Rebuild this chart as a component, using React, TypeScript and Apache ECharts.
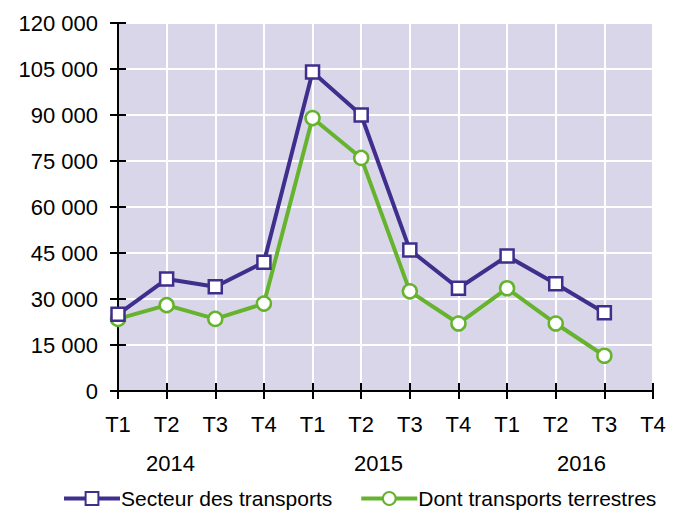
import React, { useEffect, useRef } from "react";
import * as echarts from "echarts";

const categories = ["T1", "T2", "T3", "T4", "T1", "T2", "T3", "T4", "T1", "T2", "T3", "T4"];
const years = ["2014", "2015", "2016"];
const secteurTransports = [25000, 36500, 34000, 42000, 104000, 90000, 46000, 33500, 44000, 35000, 25500];
const transportsTerrestres = [23500, 28000, 23500, 28500, 89000, 76000, 32500, 22000, 33500, 22000, 11500];
const seriesNames = ["Secteur des transports", "Dont transports terrestres"];

const FONT = "Liberation Sans, Arial, sans-serif";

export default function App() {
  const ref = useRef<HTMLDivElement>(null);
  useEffect(() => {
    if (!ref.current) return;
    const chart = echarts.init(ref.current, undefined, { renderer: "svg" });
    const fmt = (v: number) => String(v).replace(/\B(?=(\d{3})+(?!\d))/g, " ");
    const axisLine = { show: true, lineStyle: { color: "#000", width: 2 } };
    chart.setOption({
      animation: false,
      textStyle: { fontFamily: FONT },
      grid: {
        left: 118, right: 31, top: 23, bottom: 122,
        show: true, backgroundColor: "#d9d6ea", borderWidth: 0,
      },
      legend: {
        orient: "horizontal",
        top: 488,
        left: 62,
        width: 640,
        itemWidth: 56,
        itemHeight: 16,
        itemGap: 27,
        padding: 0,
        lineStyle: { width: 4 },
        textStyle: { fontSize: 21, color: "#000", fontFamily: FONT, padding: [0, 0, 0, -4] },
        data: seriesNames,
      },
      xAxis: [
        {
          type: "category", data: categories, boundaryGap: false,
          axisLine,
          axisTick: { show: true, length: 8, lineStyle: { color: "#000", width: 2 } },
          axisLabel: { color: "#000", fontSize: 22, margin: 22, fontFamily: FONT, interval: 0 },
          splitLine: { show: true, lineStyle: { color: "#fff", width: 2 } },
        },
        {
          type: "category", data: categories, boundaryGap: false, position: "bottom",
          axisLine,
          axisTick: { show: true, inside: true, length: 8, lineStyle: { color: "#000", width: 2 } },
          axisLabel: { show: false },
          splitLine: { show: false },
        },
      ],
      yAxis: [
        {
          type: "value", min: 0, max: 120000, interval: 15000,
          axisLine,
          axisTick: { show: true, length: 8, lineStyle: { color: "#000", width: 2 } },
          axisLabel: { color: "#000", fontSize: 22, margin: 20, fontFamily: FONT, formatter: fmt },
          splitLine: { show: true, lineStyle: { color: "#fff", width: 2 } },
        },
        {
          type: "value", min: 0, max: 120000, interval: 15000, position: "left",
          axisLine,
          axisTick: { show: true, inside: true, length: 8, lineStyle: { color: "#000", width: 2 } },
          axisLabel: { show: false },
          splitLine: { show: false },
        },
      ],
      graphic: [
        { type: "text", left: 146, top: 452, style: { text: years[0], fontSize: 22, fill: "#000", fontFamily: FONT } },
        { type: "text", left: 354, top: 452, style: { text: years[1], fontSize: 22, fill: "#000", fontFamily: FONT } },
        { type: "text", left: 557, top: 452, style: { text: years[2], fontSize: 22, fill: "#000", fontFamily: FONT } },
      ],
      series: [
        {
          name: seriesNames[0], type: "line", data: secteurTransports,
          symbol: "rect", symbolSize: 13,
          lineStyle: { color: "#3f2e8c", width: 4 },
          itemStyle: { color: "#fff", borderColor: "#3f2e8c", borderWidth: 2.5 },
          z: 3,
        },
        {
          name: seriesNames[1], type: "line", data: transportsTerrestres,
          symbol: "circle", symbolSize: 14,
          lineStyle: { color: "#66b32e", width: 4 },
          itemStyle: { color: "#fff", borderColor: "#66b32e", borderWidth: 2.5 },
          z: 2,
        },
      ],
    });
    return () => chart.dispose();
  }, []);
  return <div ref={ref} style={{ width: 684, height: 513, position: "absolute", left: 0, top: 0 }} />;
}
